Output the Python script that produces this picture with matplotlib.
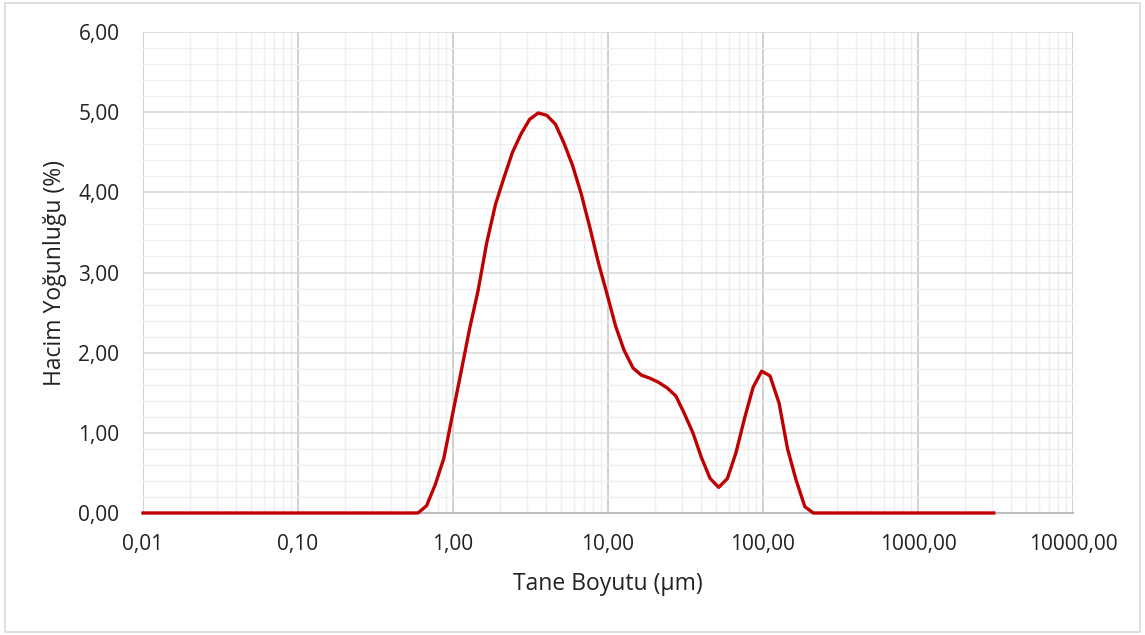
import matplotlib
matplotlib.use("Agg")
import matplotlib.pyplot as plt
from matplotlib.ticker import FixedLocator, FuncFormatter, MultipleLocator, LogLocator, NullFormatter
from matplotlib.patches import Rectangle

plt.rcParams['font.family'] = ['Open Sans', 'DejaVu Sans']

# particle size (µm) and volume density (%)
sizes = [0.01, 0.594, 0.675, 0.767, 0.872, 0.991, 1.13, 1.28, 1.45, 1.65, 1.88,
         2.13, 2.42, 2.75, 3.12, 3.55, 4.03, 4.58, 5.21, 5.92, 6.72, 7.64,
         8.68, 9.86, 11.2, 12.7, 14.5, 16.4, 18.7, 21.2, 24.1, 27.4, 31.1,
         35.3, 40.1, 45.6, 51.8, 58.9, 66.9, 76.0, 86.4, 98.1, 111, 127,
         144, 163, 186, 211, 3080]
density = [0.0, 0.0, 0.09, 0.35, 0.68, 1.22, 1.77, 2.30, 2.77, 3.37, 3.85,
           4.18, 4.50, 4.73, 4.91, 4.99, 4.96, 4.85, 4.61, 4.33, 3.98, 3.56,
           3.12, 2.73, 2.33, 2.03, 1.81, 1.72, 1.68, 1.63, 1.56, 1.46, 1.24,
           1.00, 0.69, 0.43, 0.32, 0.43, 0.75, 1.18, 1.57, 1.77, 1.71, 1.37,
           0.80, 0.42, 0.08, 0.0, 0.0]

x_ticks = [0.01, 0.1, 1, 10, 100, 1000, 10000]
x_tick_labels = ["0,01", "0,10", "1,00", "10,00", "100,00", "1000,00", "10000,00"]
y_ticks = [0, 1, 2, 3, 4, 5, 6]
y_tick_labels = ["0,00", "1,00", "2,00", "3,00", "4,00", "5,00", "6,00"]
x_title = "Tane Boyutu (μm)"
y_title = "Hacim Yoğunluğu (%)"

fig = plt.figure(figsize=(11.45, 6.35), dpi=100)
fig.patches.append(Rectangle((0.004, 0.005), 0.992, 0.99, transform=fig.transFigure,
                             fill=False, edgecolor='#D9D9D9', linewidth=1.2))
ax = fig.add_axes([143/1145, 1-513/635, (1073-143)/1145, (513-32)/635])

ax.set_xscale('log')
ax.set_xlim(0.01, 10000)
ax.set_ylim(0, 6)

ax.xaxis.set_major_locator(FixedLocator(x_ticks))
ax.xaxis.set_major_formatter(FuncFormatter(
    lambda v, p: x_tick_labels[x_ticks.index(min(x_ticks, key=lambda t: abs(t - v)))]))
ax.xaxis.set_minor_locator(LogLocator(base=10, subs=range(2, 10), numticks=100))
ax.xaxis.set_minor_formatter(NullFormatter())
ax.yaxis.set_major_locator(FixedLocator(y_ticks))
ax.set_yticklabels(y_tick_labels)
ax.yaxis.set_minor_locator(MultipleLocator(0.2))

ax.grid(which='minor', axis='both', color='#EFEFEF', linewidth=1.0)
ax.grid(which='major', axis='y', color='#D9D9D9', linewidth=1.2)
ax.grid(which='major', axis='x', color='#C8C8C8', linewidth=1.2)
ax.set_axisbelow(True)

for s in ['top', 'right', 'left']:
    ax.spines[s].set_visible(False)
ax.spines['bottom'].set_color('#BFBFBF')
ax.spines['bottom'].set_linewidth(1.5)

ax.tick_params(which='both', length=0)
ax.tick_params(axis='x', pad=15, labelsize=15, labelcolor='#222222')
ax.tick_params(axis='y', pad=17, labelsize=15, labelcolor='#222222')

ax.plot(sizes, density, color='#C00000', linewidth=2.4, solid_joinstyle='round',
        clip_on=False, zorder=3)

ax.set_xlabel(x_title, fontsize=16.5, color='#222222', labelpad=12)
ax.set_ylabel(y_title, fontsize=16.5, color='#222222', labelpad=8)

fig.savefig("out.png", dpi=100)
